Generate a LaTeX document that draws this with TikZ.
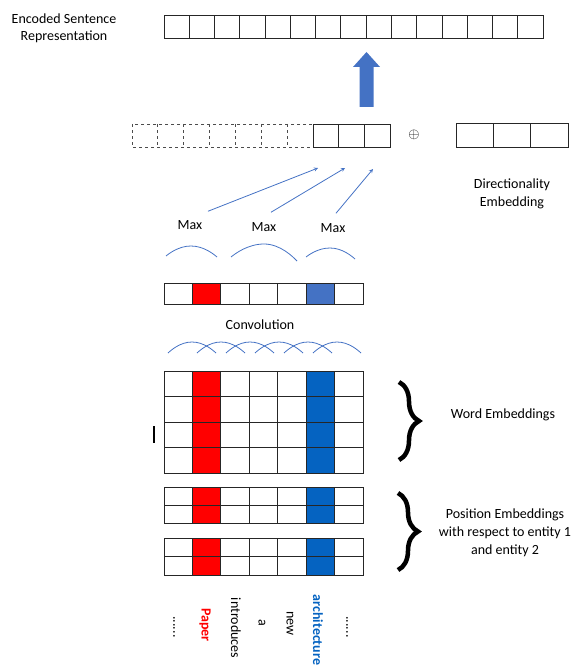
\documentclass[tikz,border=0pt]{standalone}
\usepackage{fontspec}
\setmainfont{Carlito}
\usetikzlibrary{decorations.pathreplacing}

\definecolor{entred}{HTML}{FF0000}
\definecolor{entblue}{HTML}{0563C1}
\definecolor{poolblue}{HTML}{4472C4}

\tikzset{
  lbl/.style={font=\fontsize{14}{18}\selectfont, align=center, inner sep=0pt},
  word/.style={lbl, rotate=-90},
  cell/.style={draw=black!85, line width=0.8pt},
  dcell/.style={draw=black!70, line width=0.8pt, dash pattern=on 3pt off 3pt},
  wave/.style={poolblue, line width=0.8pt},
  conn/.style={-stealth, poolblue, line width=0.8pt},
  bigbrace/.style={decorate, decoration={brace, amplitude=20pt}, line width=4.5pt},
}

\begin{document}
\begin{tikzpicture}[x=1pt,y=-1pt]
        \useasboundingbox (0,0) rectangle (581,666);

        % encoded sentence
        \node[lbl, font=\fontsize{14}{17}\selectfont] (enc) at (64,28.5) {Encoded Sentence\\Representation};
        \foreach \i in {0,...,14}
          \draw[cell] ({164+25.27*\i},15) rectangle ++(25.27,23.3);
        \fill[poolblue] (359.5,107) -- (359.5,67) -- (353,67) -- (366.5,52) -- (380,67) -- (373.5,67) -- (373.5,107) -- cycle;

        % directionality embedding
        \draw[dcell] (132,124) rectangle (313,147);
        \foreach \i in {1,...,6}
          \draw[dcell] ({132+25.86*\i},124) -- ++(0,23);
        \foreach \i in {0,1,2}
          \draw[cell] ({313+25.67*\i},124) rectangle ++(25.67,23);
        \node[font=\fontsize{15}{15}\selectfont, inner sep=0pt] (plus) at (414,135) {$\oplus$};
        \foreach \i in {0,1,2}
          \draw[cell] ({456+37.33*\i},123) rectangle ++(37.33,24);
        \node[lbl] (dirlbl) at (512,194) {Directionality\\Embedding};

        % max pooling
        \node[lbl] (max1) at (190,225) {Max};
        \node[lbl] (max2) at (264,227) {Max};
        \node[lbl] (max3) at (333,228) {Max};
        \coordinate (d1) at (318,168);
        \coordinate (d2) at (345,168);
        \coordinate (d3) at (373,169);
        \draw[conn] ([xshift=18pt,yshift=9pt]max1.north) -- (d1);
        \draw[conn] ([xshift=7pt,yshift=10pt]max2.north) -- (d2);
        \draw[conn] ([xshift=3pt,yshift=10pt]max3.north) -- (d3);
        \draw[wave] (166,256) parabola bend (191,246) (217,257);
        \draw[wave] (231,257) parabola bend (264,244) (297,261);
        \draw[wave] (306,257) parabola bend (330,248) (355,259);
        %% pooled row
        \fill[entred] (192.4,283) rectangle ++(28.4,21);
        \fill[poolblue] (306.1,283) rectangle ++(28.4,21);
        \foreach \c in {0,...,6}
          \draw[cell] ({164+28.43*\c},283) rectangle ++(28.43,21);

        % convolution
        \node[lbl] (convlbl) at (260,325) {Convolution};
        \foreach \i in {0,...,5}
          \draw[wave] ({168+29*\i},353) parabola bend ({192+29*\i},342) ({216+29*\i},353);

        % word embeddings
        \fill[entred] (192.4,371) rectangle ++(28.4,102);
        \fill[entblue] (306.1,371) rectangle ++(28.4,102);
        \foreach \r in {0,...,3}
          \foreach \c in {0,...,6}
            \draw[cell] ({164+28.43*\c},{371+25.5*\r}) rectangle ++(28.43,25.5);
        \draw[line width=1.2pt] (154,426) -- (154,443);
        \draw[bigbrace] (399,382) -- (399,460);
        \node[lbl] (wordlbl) at (503,415) {Word Embeddings};

        % position embeddings
        \fill[entred] (192.4,487) rectangle ++(28.4,36);
        \fill[entblue] (306.1,487) rectangle ++(28.4,36);
        \fill[entred] (192.4,538) rectangle ++(28.4,37);
        \fill[entblue] (306.1,538) rectangle ++(28.4,37);
        \foreach \r in {0,1}
          \foreach \c in {0,...,6} {
            \draw[cell] ({164+28.43*\c},{487+18*\r}) rectangle ++(28.43,18);
            \draw[cell] ({164+28.43*\c},{538+18.5*\r}) rectangle ++(28.43,18.5);
          }
        \draw[bigbrace] (398,493) -- (398,570);
        \node[lbl] (poslbl) at (505,533) {Position Embeddings\\with respect to entity 1\\and entity 2};

        % sentence
        \node[word] (w1) at (174,627) {......};
        \node[word, font=\fontsize{14}{18}\selectfont\bfseries, text=entred] (w2) at (205,625) {Paper};
        \node[word] (w3) at (236,628) {introduces};
        \node[word] (w4) at (262,623) {a};
        \node[word] (w5) at (290,623.5) {new};
        \node[word, font=\fontsize{14}{18}\selectfont\bfseries, text=entblue] (w6) at (318,630) {architecture};
        \node[word] (w7) at (347,627) {......};

\end{tikzpicture}
\end{document}
